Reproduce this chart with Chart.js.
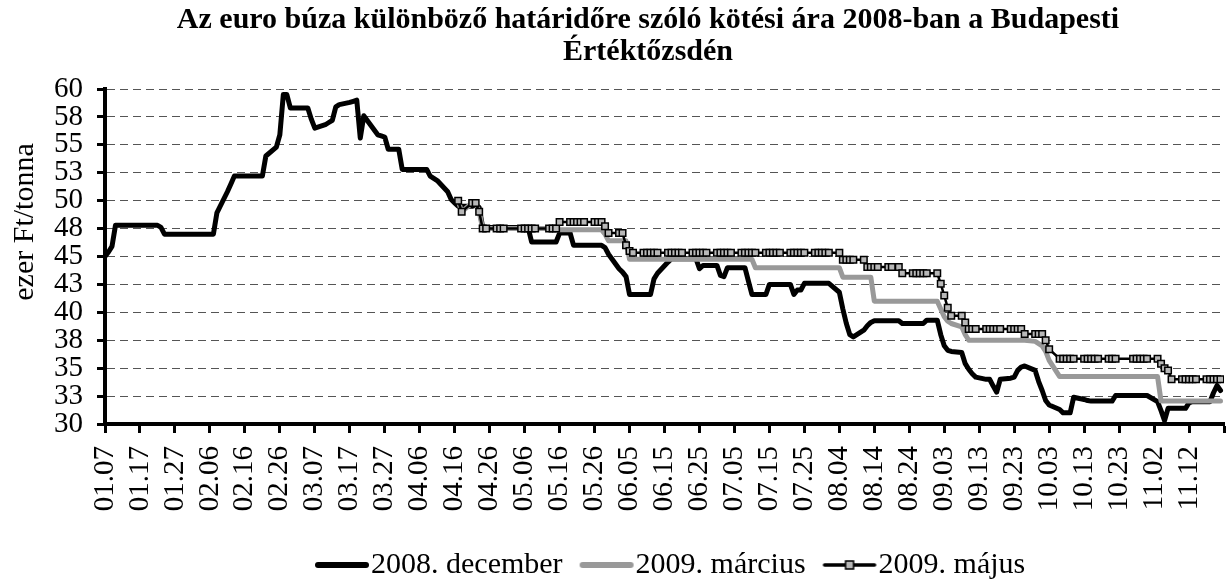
<!DOCTYPE html>
<html><head><meta charset="utf-8">
<script src="https://cdn.jsdelivr.net/npm/chart.js@4.4.1/dist/chart.umd.min.js"></script>
<style>html,body{margin:0;padding:0;background:#fff;overflow:hidden}canvas{display:block}</style>
</head><body>
<canvas id="c" width="1231" height="585"></canvas>
<script>
// ---------------- DATA ----------------
const chartTitle = ['Az euro búza különböző határidőre szóló kötési ára 2008-ban a Budapesti', 'Értéktőzsdén'];
const yAxisTitle = 'ezer Ft/tonna';
const seriesNames = ['2008. december', '2009. március', '2009. május'];
const tickLabels = ['01.07','01.17','01.27','02.06','02.16','02.26','03.07','03.17','03.27','04.06','04.16','04.26',
  '05.06','05.16','05.26','06.05','06.15','06.25','07.05','07.15','07.25','08.04','08.14','08.24',
  '09.03','09.13','09.23','10.03','10.13','10.23','11.02','11.12'];
const axisStart = '01.07';
const axisEnd = '11.22';
const lastDay = '11.21';
const holidays = ['03.24','05.01','05.02','05.12','08.20','10.23','10.24'];

// each value holds from its date until the next listed date (trading days)
const decDates = ['01.07','01.08','01.09','01.10','01.23','01.24','02.08','02.11','02.12','02.13','02.22','02.25','02.26','02.27','02.29',
  '03.06','03.07','03.10','03.11','03.12','03.13','03.14','03.17','03.18','03.19','03.20','03.21','03.25','03.26','03.27','03.28',
  '04.01','04.09','04.10','04.11','04.14','04.15','04.16','04.17','04.22','04.23','04.24','05.08','05.16','05.20','05.29','05.30',
  '06.02','06.03','06.04','06.05','06.12','06.13','06.16','06.17','06.25','06.26','07.01','07.02','07.03','07.09','07.10','07.15',
  '07.22','07.23','07.25','08.04','08.05','08.06','08.07','08.08','08.11','08.12','08.13','08.14','08.22','08.29',
  '09.02','09.03','09.04','09.05','09.08','09.09','09.10','09.11','09.12','09.15','09.17','09.18','09.19','09.22','09.23','09.24',
  '09.25','09.26','09.29','09.30','10.01','10.02','10.03','10.06','10.07','10.10','10.13','10.14','10.15','10.22',
  '11.03','11.04','11.05','11.06','11.12','11.13','11.19','11.20','11.21'];
const decValues = [45.0,45.4,45.9,47.8,47.6,47.0,48.9,50.8,51.5,52.2,54.0,54.8,55.9,59.5,58.3,
  57.3,56.5,56.8,57.0,57.2,58.4,58.6,58.8,58.9,59.0,55.6,57.6,55.9,55.8,55.7,54.6,
  52.8,52.2,52.0,51.8,50.8,50.1,49.8,49.5,49.6,49.4,47.6,46.3,47.1,46.0,45.8,45.2,
  43.9,43.6,43.2,41.6,43.0,43.5,44.5,44.8,43.9,44.2,43.3,43.2,44.0,42.8,41.6,42.5,
  41.6,42.0,42.6,41.8,40.3,39.0,38.0,37.8,38.4,38.8,39.1,39.25,39.0,39.3,
  38.0,37.0,36.6,36.5,36.4,35.4,34.9,34.5,34.2,34.0,33.4,32.85,34.0,34.1,34.2,34.8,
  35.1,35.2,34.8,33.8,33.0,32.1,31.7,31.3,31.0,32.4,32.2,32.1,32.05,32.55,
  32.0,31.2,30.3,31.4,31.9,32.0,32.8,33.45,33.0];

const marDates = ['04.17','04.18','04.21','04.23','04.24','05.15','05.29','05.30','06.05','07.11','08.05','08.14',
  '09.02','09.03','09.04','09.05','09.08','09.09','09.10','09.29','09.30','10.01','10.02','10.03','10.06','11.04'];
const marValues = [50.0,49.0,49.8,49.0,47.5,47.4,47.0,46.4,44.75,44.0,43.15,41.0,
  40.3,39.6,39.2,39.0,38.7,38.0,37.5,37.4,37.2,37.0,36.5,35.7,34.25,32.05];

const majDates = ['04.17','04.18','04.21','04.23','04.24','05.16','05.29','05.30','06.04','06.05','06.06','08.05','08.12','08.22',
  '09.02','09.03','09.04','09.05','09.09','09.10','09.26','10.02','10.03','10.06','11.04','11.05','11.06','11.07'];
const majValues = [50.0,49.0,49.8,49.0,47.5,48.1,47.7,47.1,46.0,45.5,45.34,44.7,44.05,43.5,
  42.55,41.5,40.4,39.7,39.1,38.5,38.07,37.5,36.7,35.84,35.4,35.0,34.8,34.0];

// ---------------- HELPERS ----------------
function dayOffset(md) {
  const [m, d] = md.split('.').map(Number);
  const [m0, d0] = axisStart.split('.').map(Number);
  return Math.round((Date.UTC(2008, m - 1, d) - Date.UTC(2008, m0 - 1, d0)) / 864e5);
}
function tradingSeries(dates, values) {
  const pts = [];
  const start = dayOffset(dates[0]), end = dayOffset(lastDay);
  const hol = new Set(holidays.map(dayOffset));
  const offs = dates.map(dayOffset);
  const [m0, d0] = axisStart.split('.').map(Number);
  let k = 0;
  for (let t = start; t <= end; t++) {
    const wd = new Date(Date.UTC(2008, m0 - 1, d0 + t)).getUTCDay();
    if (wd === 0 || wd === 6 || hol.has(t)) continue;
    while (k + 1 < offs.length && offs[k + 1] <= t) k++;
    pts.push({x: t, y: values[k]});
  }
  return pts;
}

const FONT = 'Liberation Serif';
Chart.defaults.font.family = FONT;
Chart.defaults.color = '#000';

function makeSample(kind) {
  const c = document.createElement('canvas');
  c.width = 56; c.height = 12;
  const g = c.getContext('2d');
  g.lineCap = 'round';
  if (kind === 0 || kind === 1) {
    g.strokeStyle = kind === 0 ? '#000000' : '#999999';
    g.lineWidth = 6;
    g.beginPath(); g.moveTo(4, 6); g.lineTo(52, 6); g.stroke();
  } else {
    g.strokeStyle = '#000'; g.lineWidth = 3.5;
    g.beginPath(); g.moveTo(3, 6); g.lineTo(53, 6); g.stroke();
    g.fillStyle = '#b8b8b8'; g.fillRect(24, 2, 8, 8);
    g.lineWidth = 1.5; g.strokeRect(24, 2, 8, 8);
  }
  return c;
}
const samples = [makeSample(0), makeSample(1), makeSample(2)];

const TITLE_CX = 648;
const LEGEND_START_X = 328;
const LEGEND_DY = 5;
const shiftPlugin = {
  id: 'shiftBoxes',
  afterLayout(chart) {
    const t = chart.titleBlock;
    if (t) { const dx = TITLE_CX - (t.left + t.right) / 2; t.left += dx; t.right += dx; }
    const l = chart.legend;
    if (l && l.lineWidths) {
      const pad = l.options.labels.padding;
      const start = (l.left + pad + l.right - l.lineWidths[0]) / 2;
      const dx = LEGEND_START_X - start;
      l.left += dx; l.right += dx; l.top += LEGEND_DY; l.bottom += LEGEND_DY;
    }
  }
};
const yTitlePlugin = {
  id: 'yTitle',
  afterDraw(chart) {
    const ctx = chart.ctx;
    ctx.save();
    ctx.font = '30px "' + FONT + '"';
    ctx.fillStyle = '#000';
    ctx.textAlign = 'center';
    ctx.textBaseline = 'alphabetic';
    ctx.translate(33, 222);
    ctx.rotate(-Math.PI / 2);
    ctx.fillText(yAxisTitle, 0, 0);
    ctx.restore();
  }
};

new Chart(document.getElementById('c'), {
  type: 'line',
  data: {
    datasets: [
      { label: seriesNames[0], data: tradingSeries(decDates, decValues), borderColor: '#000000', borderWidth: 5,
        pointRadius: 0, tension: 0, borderJoinStyle: 'round', borderCapStyle: 'round', order: 2 },
      { label: seriesNames[1], data: tradingSeries(marDates, marValues), borderColor: '#999999', borderWidth: 5,
        pointRadius: 0, tension: 0, borderJoinStyle: 'round', borderCapStyle: 'round', order: 1 },
      { label: seriesNames[2], data: tradingSeries(majDates, majValues), borderColor: '#000000', borderWidth: 2.5,
        pointStyle: 'rect', pointRadius: 4.6, pointBackgroundColor: '#b8b8b8', pointBorderColor: '#000000',
        pointBorderWidth: 1.5, tension: 0, borderJoinStyle: 'round', order: 0 }
    ]
  },
  options: {
    responsive: false,
    animation: false,
    events: [],
    layout: { padding: { left: 0, right: 7, top: 0, bottom: 0 } },
    scales: {
      x: {
        type: 'linear', min: dayOffset(axisStart), max: dayOffset(axisEnd),
        ticks: { stepSize: 10, autoSkip: false, maxRotation: 90, minRotation: 90, padding: 13,
          font: { family: FONT, size: 29 }, color: '#000',
          callback: (v) => tickLabels[Math.round(v / 10)] ?? '' },
        grid: { drawOnChartArea: false, drawTicks: true, tickLength: 9, tickWidth: 3, tickColor: '#000' },
        border: { display: true, color: '#000', width: 4 },
        afterFit: (s) => { s.height = 91; s.paddingRight = 0; s.paddingLeft = 0; }
      },
      y: {
        min: 30, max: 60,
        ticks: { stepSize: 2.5, autoSkip: false, padding: 14, font: { family: FONT, size: 29 }, color: '#000',
          callback: (v) => String(Math.round(v)) },
        grid: { color: '#555555', lineWidth: 1, tickColor: '#000', tickWidth: 3, tickLength: 8, drawTicks: true },
        border: { display: true, color: '#000', width: 4, dash: [8, 5] },
        afterFit: (s) => { s.width = 105; s.paddingTop = 0; s.paddingBottom = 0; }
      }
    },
    plugins: {
      tooltip: { enabled: false },
      title: { display: true, text: chartTitle, color: '#000',
        font: { family: FONT, size: 30, weight: 'bold', lineHeight: 1.0667 },
        padding: { top: 4, bottom: 21 } },
      legend: {
        position: 'bottom',
        labels: {
          usePointStyle: true, pointStyleWidth: 28, padding: 30,
          font: { family: FONT, size: 30 }, color: '#000',
          generateLabels: (chart) => chart.data.datasets.map((ds, i) => ({
            text: ds.label, datasetIndex: i, hidden: false, pointStyle: samples[i],
            fontColor: '#000', fillStyle: 'rgba(0,0,0,0)', strokeStyle: 'rgba(0,0,0,0)', lineWidth: 0
          }))
        }
      }
    }
  },
  plugins: [shiftPlugin, yTitlePlugin]
});
</script>
</body></html>
